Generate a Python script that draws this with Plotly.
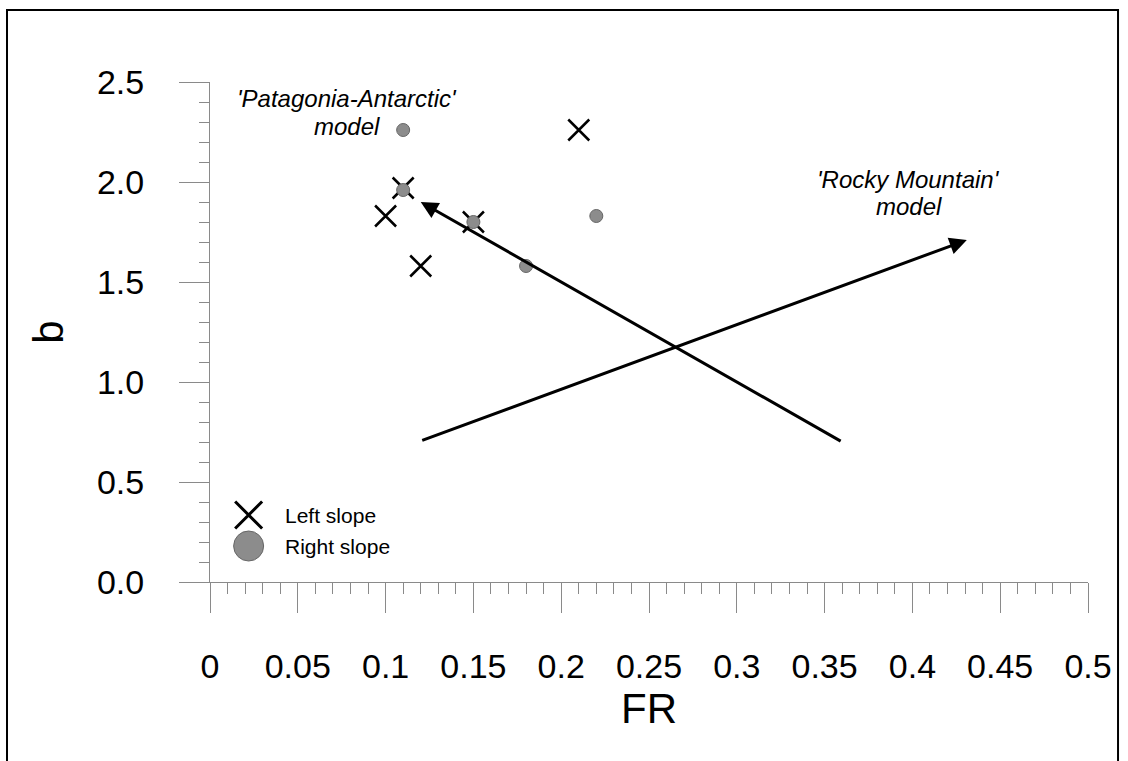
import plotly.graph_objects as go

# Flow resistance (FR) vs. exponent b, per slope
left_fr = [0.10, 0.11, 0.12, 0.15, 0.21]
left_b = [1.83, 1.97, 1.58, 1.80, 2.26]

right_fr = [0.11, 0.11, 0.15, 0.18, 0.22]
right_b = [2.26, 1.96, 1.80, 1.58, 1.83]

# Model trend arrows: (tail FR, tail b) -> (head FR, head b)
patagonia_arrow = [(0.36, 0.70), (0.12, 1.90)]
rocky_arrow = [(0.12, 0.705), (0.431, 1.71)]

legend_labels = ["Left slope", "Right slope"]

FONT = "Arial, Liberation Sans, sans-serif"
AXIS_GREY = "#8a8a8a"
DOT_GREY = "#8c8c8c"

fig = go.Figure()

fig.add_trace(go.Scatter(
    x=left_fr, y=left_b, mode="markers", name=legend_labels[0],
    marker=dict(symbol="x-thin-open", size=21, color="black",
                line=dict(color="black", width=2.5)),
    showlegend=False, cliponaxis=False,
))
fig.add_trace(go.Scatter(
    x=right_fr, y=right_b, mode="markers", name=legend_labels[1],
    marker=dict(symbol="circle", size=13, color=DOT_GREY, line=dict(color="#666666", width=1)),
    showlegend=False, cliponaxis=False,
))

# Hand-placed key in the lower-left corner
key_x = 0.022
key_y = [0.335, 0.18]
fig.add_trace(go.Scatter(
    x=[key_x], y=[key_y[0]], mode="markers", showlegend=False, hoverinfo="skip",
    marker=dict(symbol="x-thin-open", size=27, color="black",
                line=dict(color="black", width=3)),
))
fig.add_trace(go.Scatter(
    x=[key_x], y=[key_y[1]], mode="markers", showlegend=False, hoverinfo="skip",
    marker=dict(symbol="circle", size=30, color=DOT_GREY, line=dict(color="#666666", width=1)),
))

annotations = []
for label, ky in zip(legend_labels, key_y):
    annotations.append(dict(
        x=0.0416, y=ky, xref="x", yref="y", text=label, showarrow=False,
        xanchor="left", yanchor="middle", font=dict(family=FONT, size=21, color="black"),
    ))

for (tail, head) in (patagonia_arrow, rocky_arrow):
    annotations.append(dict(
        x=head[0], y=head[1], ax=tail[0], ay=tail[1],
        xref="x", yref="y", axref="x", ayref="y",
        text="", showarrow=True, arrowhead=2, arrowsize=1.15, arrowwidth=3,
        arrowcolor="black", standoff=0,
    ))

model_labels = [
    ("'Patagonia-Antarctic'", 0.078, 2.42),
    ("model", 0.078, 2.28),
    ("'Rocky Mountain'", 0.398, 2.015),
    ("model", 0.398, 1.88),
]
for text, x, y in model_labels:
    annotations.append(dict(
        x=x, y=y, xref="x", yref="y", text=f"<i>{text}</i>", showarrow=False,
        xanchor="center", yanchor="middle", font=dict(family=FONT, size=24, color="black"),
    ))

fig.update_layout(
    width=1128, height=761,
    margin=dict(l=210, r=40, t=82, b=179),
    paper_bgcolor="white", plot_bgcolor="white",
    font=dict(family=FONT, color="black"),
    annotations=annotations,
    shapes=[dict(
        type="rect", xref="paper", yref="paper",
        x0=-0.2312, x1=1.0342, y0=-0.40, y1=1.144,
        line=dict(color="black", width=2), fillcolor="rgba(0,0,0,0)", layer="above",
    )],
)

fig.update_xaxes(
    range=[0, 0.5], tickmode="array",
    tickvals=[0, 0.05, 0.1, 0.15, 0.2, 0.25, 0.3, 0.35, 0.4, 0.45, 0.5],
    ticktext=["0", "0.05", "0.1", "0.15", "0.2", "0.25", "0.3", "0.35", "0.4", "0.45", "0.5"],
    ticks="outside", ticklen=30, tickwidth=1, tickcolor=AXIS_GREY,
    minor=dict(dtick=0.01, ticks="outside", ticklen=11, tickwidth=1, tickcolor=AXIS_GREY, showgrid=False),
    showline=True, linecolor=AXIS_GREY, linewidth=1,
    showgrid=False, zeroline=False,
    tickfont=dict(family=FONT, size=34, color="black"),
    ticklabelstandoff=24,
    title=dict(text="FR", font=dict(family=FONT, size=42, color="black"), standoff=8),
)
fig.update_yaxes(
    range=[0, 2.5], tickmode="array",
    tickvals=[0, 0.5, 1.0, 1.5, 2.0, 2.5],
    ticktext=["0.0", "0.5", "1.0", "1.5", "2.0", "2.5"],
    ticks="outside", ticklen=30, tickwidth=1, tickcolor=AXIS_GREY,
    minor=dict(dtick=0.1, ticks="outside", ticklen=10, tickwidth=1, tickcolor=AXIS_GREY, showgrid=False),
    showline=True, linecolor=AXIS_GREY, linewidth=1,
    showgrid=False, zeroline=False,
    tickfont=dict(family=FONT, size=34, color="black"),
    ticklabelstandoff=28,
    title=dict(text="b", font=dict(family=FONT, size=42, color="black"), standoff=20),
)

fig.write_html("out.html")
